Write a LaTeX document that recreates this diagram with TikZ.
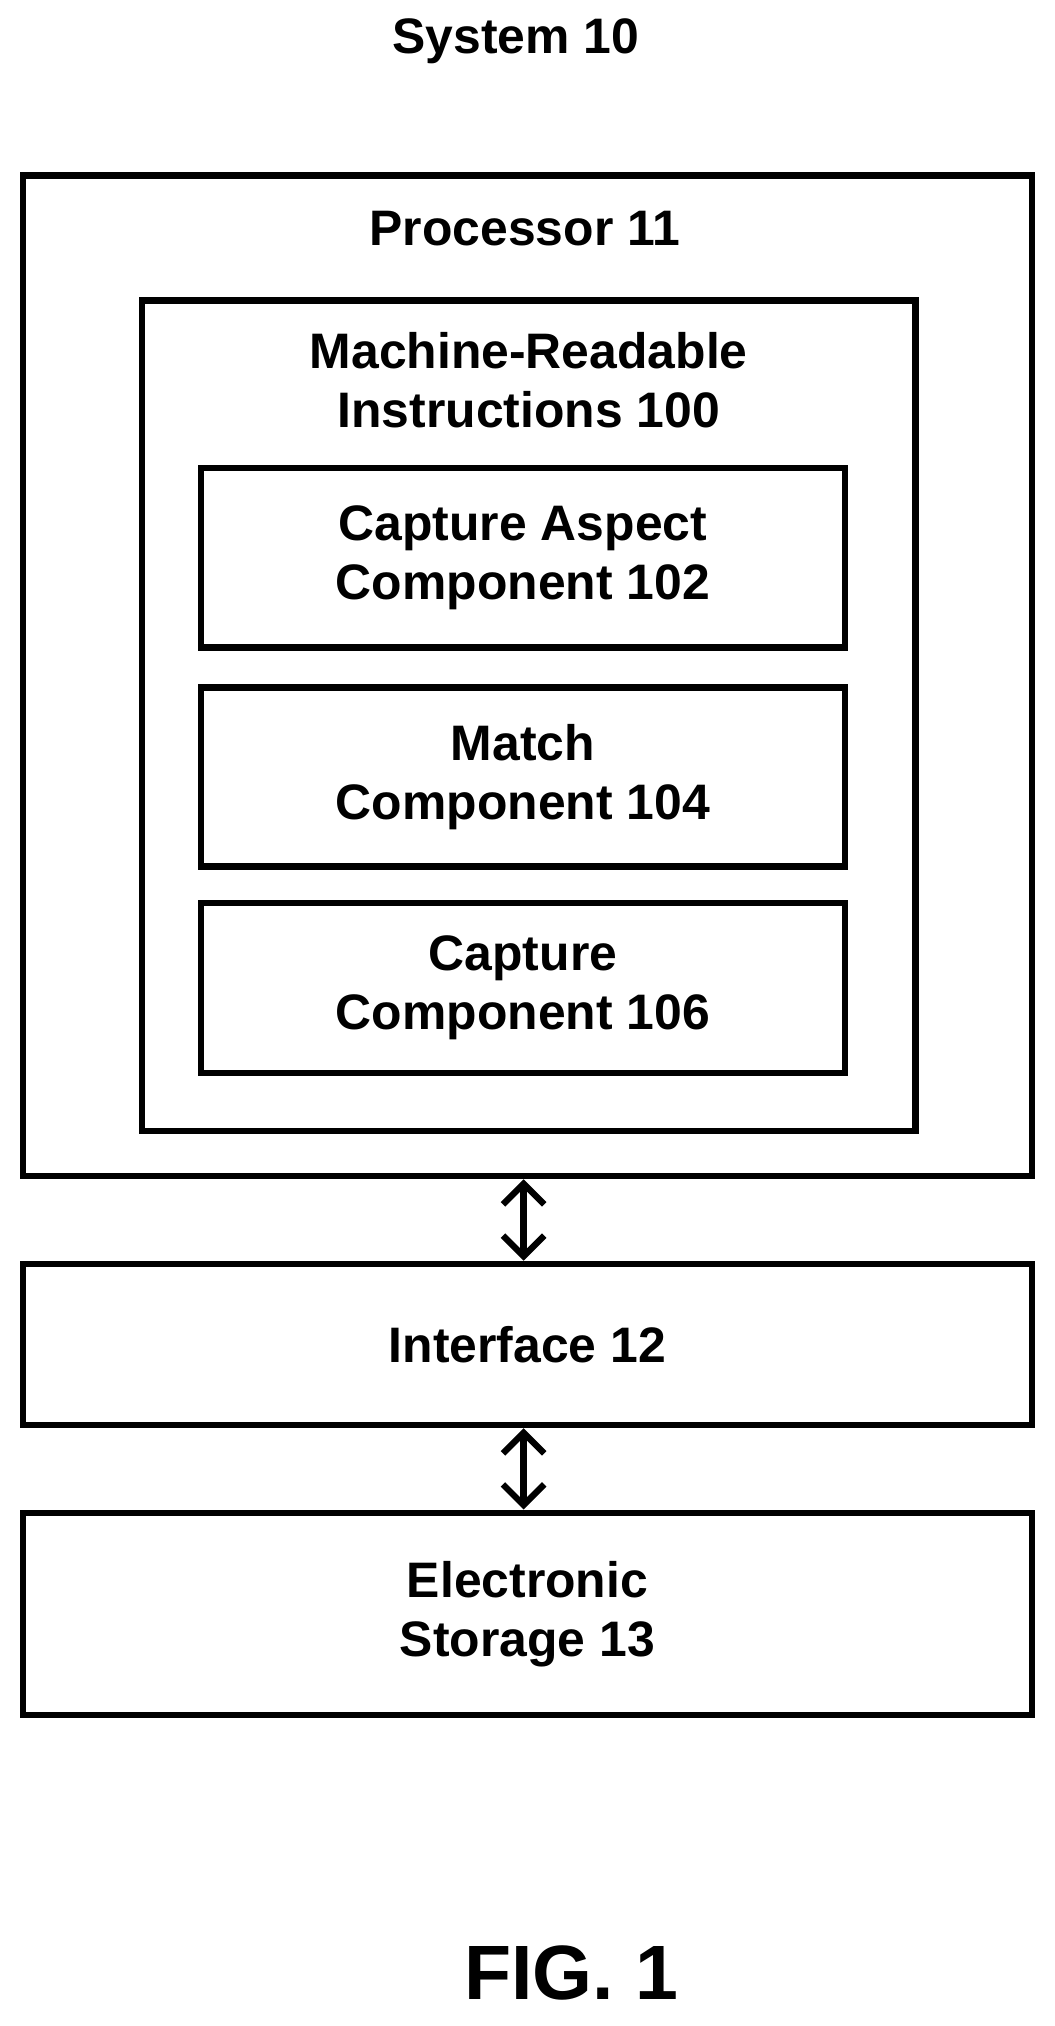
\documentclass[tikz,border=0pt]{standalone}
\usepackage{fontspec}
\setmainfont{Liberation Sans}
\usetikzlibrary{positioning,arrows.meta}
\tikzset{
    blk/.style={rectangle, draw=black, line width=1.4pt, inner sep=0pt,
        font=\bfseries\fontsize{11}{13}\selectfont, align=center},
    lbl/.style={font=\bfseries\fontsize{11}{13}\selectfont, align=center},
    link/.style={line width=1.4pt, {Straight Barb[length=1.6mm,width=3.2mm]}-{Straight Barb[length=1.6mm,width=3.2mm]}}
}
\begin{document}
\begin{tikzpicture}[x=0.1mm,y=-0.1mm]
  \useasboundingbox (0,0) rectangle (818,1571);
  \node[lbl] (sys) at (400,32) {System 10};
  % processor and its contents
  \node[blk, minimum width=7.82cm, minimum height=7.76cm] (proc) at (409,524) {};
  \node[lbl] (proct) at (407,177) {Processor 11};
  \node[blk, minimum width=6.0cm, minimum height=6.44cm] (mri) at (410,555) {};
  \node[lbl] (mrit) at (410,295) {Machine-Readable\\Instructions 100};
  \node[blk, minimum width=4.99cm, minimum height=1.39cm] (cap) at (405.5,432.5) {Capture Aspect\\Component 102};
  \node[blk, minimum width=4.99cm, minimum height=1.39cm] (match) at (405.5,602.5) {Match\\Component 104};
  \node[blk, minimum width=4.99cm, minimum height=1.32cm] (capt) at (405.5,766) {Capture\\Component 106};
  % interface and storage
  \node[blk, minimum width=7.82cm, minimum height=1.25cm] (intf) at (409,1042.5) {Interface 12};
  \node[blk, minimum width=7.82cm, minimum height=1.57cm] (store) at (409,1251.5) {Electronic\\Storage 13};
  \draw[link] (proc.south -| 406,0) -- (intf.north -| 406,0);
  \draw[link] (intf.south -| 406,0) -- (store.north -| 406,0);
  \node[lbl, font=\bfseries\fontsize{17}{20}\selectfont] (fig) at (443,1530) {FIG. 1};
\end{tikzpicture}
\end{document}
